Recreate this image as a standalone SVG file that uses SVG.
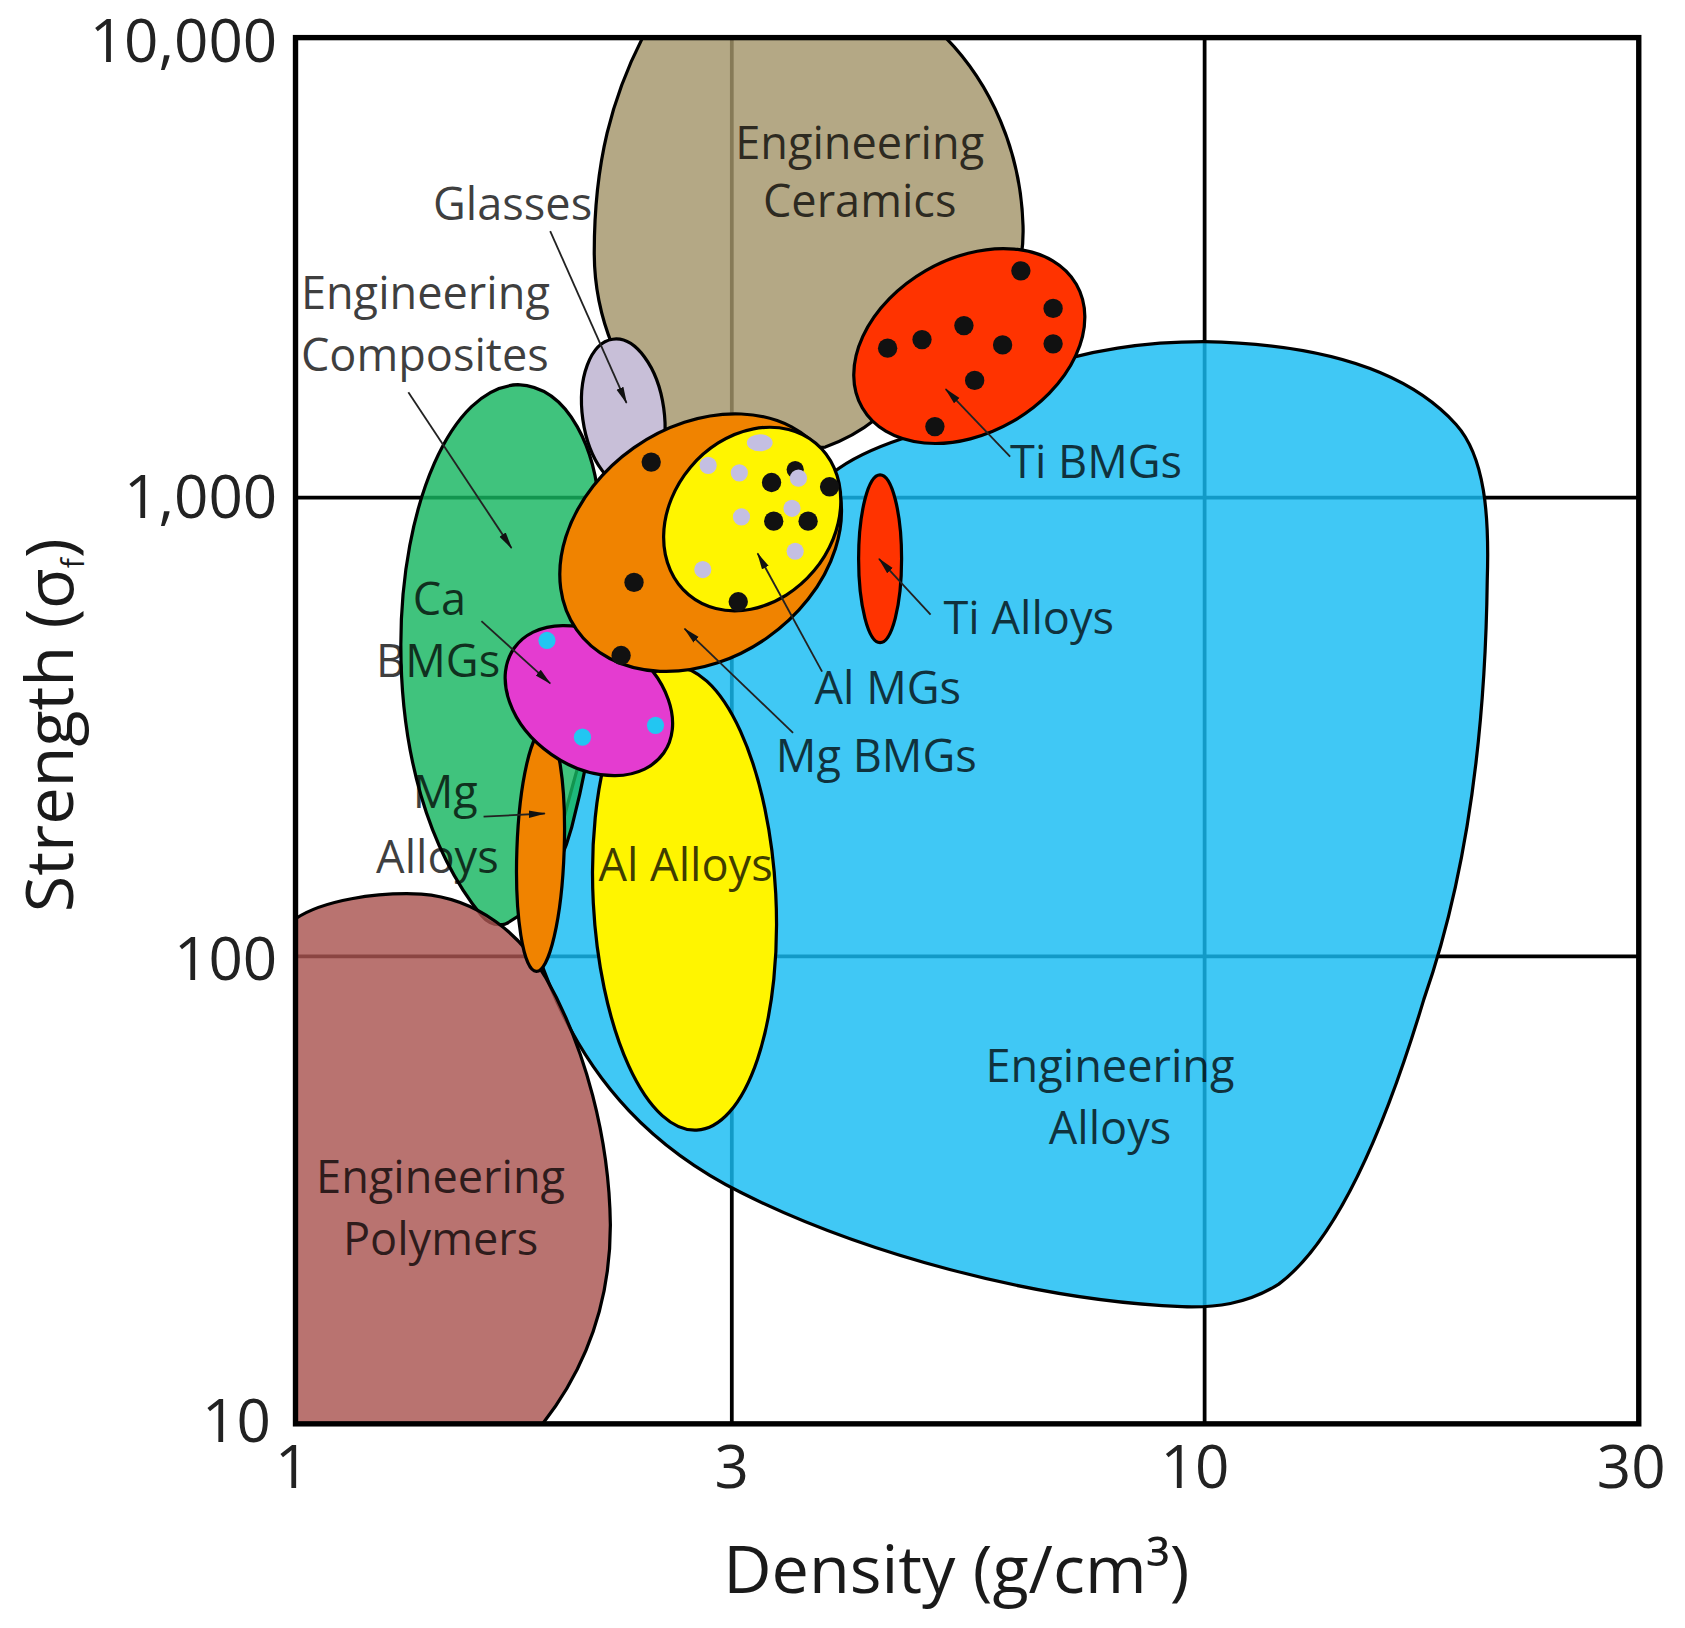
<svg xmlns="http://www.w3.org/2000/svg" width="1685" height="1628" viewBox="0 0 1685 1628">
<style>
.big{stroke:#000;stroke-width:3;fill-opacity:0.82}
.el{stroke:#000;stroke-width:3}
.grid{stroke:#000;stroke-width:3.5;fill:none}
.frame{stroke:#000;stroke-width:5;fill:none}
.dk{fill:#111}
.lv{fill:#c4bfe2}
.cy{fill:#22c6f2}
.lbl{font-family:"Open Sans","Liberation Sans",sans-serif;font-size:42px;fill:#000;fill-opacity:0.76}
.tick{font-family:"Open Sans","Liberation Sans",sans-serif;font-size:56px;fill:#222}
.title{font-family:"Open Sans","Liberation Sans",sans-serif;font-size:62px;fill:#1a1a1a}
.ld{stroke:#222;stroke-width:1.7;fill:none;marker-end:url(#ah)}
</style>
<defs>
<marker id="ah" viewBox="0 0 16 10" refX="15" refY="5" markerWidth="16" markerHeight="10" markerUnits="userSpaceOnUse" orient="auto">
<path d="M0,1.5 L16,5 L0,8.5 Z" fill="#111"/>
</marker>
</defs>
<rect width="1685" height="1628" fill="#fff"/>
<g transform="scale(1.0746)">
<g id="grid">
<line class="grid" x1="681" y1="35" x2="681" y2="1325"/>
<line class="grid" x1="1121" y1="35" x2="1121" y2="1325"/>
<line class="grid" x1="275" y1="463" x2="1525" y2="463"/>
<line class="grid" x1="275" y1="890" x2="1525" y2="890"/>
</g>
<g id="engineering-alloys">
<path class="big" fill="#16BCF3" d="M775,440 C790,428 810,418 840,408 L960,345 C1010,325 1070,318 1120,318 C1230,320 1310,345 1355,395 C1382,425 1386,480 1384,540 C1382,700 1360,830 1325,930 C1295,1030 1250,1150 1190,1195 C1160,1214 1130,1217 1100,1216 C960,1210 800,1165 690,1110 C610,1070 550,1010 512,918 L505,900 L515,800 C525,760 535,720 545,690 L560,640 L700,560 Z"/>
</g>
<g id="engineering-ceramics">
<path class="big" fill="#A3956A" d="M598,35 L880,35 C922,78 950,140 952,210 C953,245 945,265 930,275 L815,390 C800,402 785,410 768,416 L700,420 L620,400 C580,355 553,300 553,235 C553,150 570,90 598,35 Z"/>
</g>
<g id="engineering-composites">
<path class="big" fill="#16B660" d="M482,358 C530,360 556,420 558,480 L560,600 C556,660 545,720 532,770 C520,815 495,848 470,860 C460,862 453,858 448,852 C398,790 373,700 373,600 C373,470 420,360 482,358 Z"/>
</g>
<g id="engineering-polymers">
<path class="big" fill="#AA5451" d="M275,855 C300,838 350,830 392,832 C445,836 485,870 508,910 C545,975 567,1060 568,1140 C568,1220 540,1280 505,1325 L275,1325 Z"/>
</g>
<rect class="frame" x="275" y="35" width="1250" height="1290"/>
<g id="glasses">
<ellipse class="el" fill="#c8bfd8" cx="580" cy="385" rx="38" ry="70" transform="rotate(-8 580 385)"/>
</g>
<g id="al-alloys">
<ellipse class="el" fill="#fff500" cx="637" cy="836" rx="85" ry="216" transform="rotate(-3 637 836)"/>
</g>
<g id="mg-alloys">
<ellipse class="el" fill="#f08300" cx="503" cy="791" rx="22" ry="113" transform="rotate(2 503 791)"/>
</g>
<g id="ca-bmgs">
<ellipse class="el" fill="#e43cd0" cx="548" cy="652" rx="85" ry="61" transform="rotate(35 548 652)"/>
<circle class="cy" cx="509" cy="596" r="8"/>
<circle class="cy" cx="542" cy="686" r="8"/>
<circle class="cy" cx="610" cy="675" r="8"/>
</g>
<g id="mg-bmgs">
<ellipse class="el" fill="#f08300" cx="652" cy="505" rx="141" ry="108" transform="rotate(-35 652 505)"/>
<circle class="dk" cx="606" cy="430" r="9"/>
<circle class="dk" cx="590" cy="542" r="9"/>
<circle class="dk" cx="578" cy="610" r="9"/>
</g>
<g id="al-mgs">
<ellipse class="el" fill="#fff500" cx="700" cy="483" rx="92" ry="75" transform="rotate(-50 700 483)"/>
<circle class="dk" cx="740" cy="437" r="8"/>
<circle class="dk" cx="718" cy="449" r="9"/>
<circle class="dk" cx="772" cy="453" r="9"/>
<circle class="dk" cx="720" cy="485" r="9"/>
<circle class="dk" cx="752" cy="485" r="9"/>
<circle class="dk" cx="687" cy="560" r="9"/>
<ellipse class="lv" cx="707" cy="412" rx="12" ry="8"/>
<circle class="lv" cx="659" cy="433" r="8"/>
<circle class="lv" cx="688" cy="440" r="8"/>
<circle class="lv" cx="743" cy="445" r="8"/>
<circle class="lv" cx="737" cy="473" r="8"/>
<circle class="lv" cx="690" cy="481" r="8"/>
<circle class="lv" cx="740" cy="513" r="8"/>
<circle class="lv" cx="654" cy="530" r="8"/>
</g>
<g id="ti-alloys">
<ellipse class="el" fill="#ff3300" cx="819" cy="520" rx="20" ry="78"/>
</g>
<g id="ti-bmgs">
<ellipse class="el" fill="#ff3300" cx="902" cy="322" rx="115" ry="81" transform="rotate(-30 902 322)"/>
<circle class="dk" cx="950" cy="252" r="9"/>
<circle class="dk" cx="980" cy="287" r="9"/>
<circle class="dk" cx="980" cy="320" r="9"/>
<circle class="dk" cx="897" cy="303" r="9"/>
<circle class="dk" cx="858" cy="316" r="9"/>
<circle class="dk" cx="826" cy="324" r="9"/>
<circle class="dk" cx="933" cy="321" r="9"/>
<circle class="dk" cx="907" cy="354" r="9"/>
<circle class="dk" cx="870" cy="397" r="9"/>
</g>
<g id="leaders">
<line class="ld" x1="512" y1="215" x2="583" y2="375"/>
<line class="ld" x1="380" y1="365" x2="476" y2="510"/>
<line class="ld" x1="448" y1="578" x2="512" y2="636"/>
<line class="ld" x1="450" y1="760" x2="507" y2="757"/>
<line class="ld" x1="765" y1="625" x2="705" y2="515"/>
<line class="ld" x1="738" y1="682" x2="637" y2="585"/>
<line class="ld" x1="940" y1="425" x2="880" y2="362"/>
<line class="ld" x1="866" y1="572" x2="818" y2="520"/>
</g>
<g id="labels">
<text class="lbl" x="800" y="148" text-anchor="middle">Engineering</text>
<text class="lbl" x="800" y="202" text-anchor="middle">Ceramics</text>
<text class="lbl" x="403" y="205">Glasses</text>
<text class="lbl" x="280" y="288">Engineering</text>
<text class="lbl" x="280" y="345">Composites</text>
<text class="lbl" x="384" y="572">Ca</text>
<text class="lbl" x="350" y="630">BMGs</text>
<text class="lbl" x="384" y="752">Mg</text>
<text class="lbl" x="350" y="812">Alloys</text>
<text class="lbl" x="638" y="820" text-anchor="middle">Al Alloys</text>
<text class="lbl" x="758" y="655">Al MGs</text>
<text class="lbl" x="722" y="718">Mg BMGs</text>
<text class="lbl" x="940" y="445">Ti BMGs</text>
<text class="lbl" x="878" y="590">Ti Alloys</text>
<text class="lbl" x="1033" y="1007" text-anchor="middle">Engineering</text>
<text class="lbl" x="1033" y="1065" text-anchor="middle">Alloys</text>
<text class="lbl" x="410" y="1110" text-anchor="middle">Engineering</text>
<text class="lbl" x="410" y="1168" text-anchor="middle">Polymers</text>
</g>
<g id="axes">
<text class="tick" x="258" y="58" text-anchor="end">10,000</text>
<text class="tick" x="258" y="482" text-anchor="end">1,000</text>
<text class="tick" x="258" y="912" text-anchor="end">100</text>
<text class="tick" x="252" y="1342" text-anchor="end">10</text>
<text class="tick" x="272" y="1385" text-anchor="middle">1</text>
<text class="tick" x="681" y="1385" text-anchor="middle">3</text>
<text class="tick" x="1112" y="1385" text-anchor="middle">10</text>
<text class="tick" x="1518" y="1385" text-anchor="middle">30</text>
<text class="title" x="673" y="1482">Density (g/cm³)</text>
<text class="title" transform="translate(68 675) rotate(-90)" text-anchor="middle">Strength (σ<tspan font-size="28" dy="10">f</tspan><tspan dy="-10">)</tspan></text>
</g>
</g>
</svg>
